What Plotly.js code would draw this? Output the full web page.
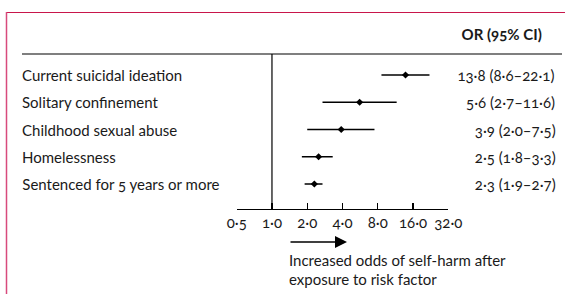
<!DOCTYPE html>
<html>
<head>
<meta charset="utf-8">
<script src="https://cdn.plot.ly/plotly-3.0.1.min.js"></script>
<style>
html,body{margin:0;padding:0;background:#fff;}
#chart{width:565px;height:294px;}
.main-svg text{font-feature-settings:"onum" 1;}
</style>
</head>
<body>
<div id="chart"></div>
<script>
// ---- data ----
const factors = ["Current suicidal ideation","Solitary confinement","Childhood sexual abuse","Homelessness","Sentenced for 5 years or more"];
const oddsRatio = [13.8, 5.6, 3.9, 2.5, 2.3];
const ciLow = [8.6, 2.7, 2.0, 1.8, 1.9];
const ciHigh = [22.1, 11.6, 7.5, 3.3, 2.7];
const tickValues = [0.5, 1, 2, 4, 8, 16, 32];
const tickLabels = ["0·5","1·0","2·0","4·0","8·0","16·0","32·0"];
const headerText = "OR (95% CI)";
const arrowText = ["Increased odds of self-harm after","exposure to risk factor"];

// ---- helpers ----
const W = 565, H = 294;
const px = v => v / W;
const py = v => 1 - v / H;
const fmt = v => v.toFixed(1).replace('.', '·');
const FONT = 'Lato, "Open Sans", sans-serif';
const TXT = '#1a1a1a';
const FS = 15;

const ciText = oddsRatio.map((v, i) => fmt(v) + ' (' + fmt(ciLow[i]) + '–' + fmt(ciHigh[i]) + ')');

const traces = [
  {
    type: 'scatter', mode: 'markers',
    x: oddsRatio, y: factors,
    marker: {symbol: 'diamond', size: 5.5, color: '#000'},
    error_x: {
      type: 'data', symmetric: false,
      array: oddsRatio.map((v, i) => ciHigh[i] - v),
      arrayminus: oddsRatio.map((v, i) => v - ciLow[i]),
      width: 0, thickness: 1.5, color: '#000'
    },
    hoverinfo: 'skip', showlegend: false
  },
  {
    type: 'scatter', mode: 'lines',
    x: [1, 1], y: [0, 1], yaxis: 'y2',
    line: {color: '#000', width: 1.2},
    hoverinfo: 'skip', showlegend: false
  }
];

const annotations = [];
factors.forEach((f, i) => {
  annotations.push({xref: 'paper', yref: 'y', x: px(20), y: f, text: f, showarrow: false,
    xanchor: 'left', yanchor: 'middle', font: {family: FONT, size: FS, color: TXT}});
  annotations.push({xref: 'paper', yref: 'y', x: px(559), y: f, text: ciText[i], showarrow: false,
    xanchor: 'right', yanchor: 'middle', font: {family: FONT, size: FS, color: TXT}});
});
annotations.push({xref: 'paper', yref: 'paper', x: px(544), y: py(34), text: '<b>' + headerText + '</b>',
  showarrow: false, xanchor: 'right', yanchor: 'middle', font: {family: FONT, size: FS, color: TXT}});
annotations.push({xref: 'paper', yref: 'paper', x: px(287), y: py(260), text: arrowText[0],
  showarrow: false, xanchor: 'left', yanchor: 'middle', font: {family: FONT, size: FS, color: TXT}});
annotations.push({xref: 'paper', yref: 'paper', x: px(287), y: py(279), text: arrowText[1],
  showarrow: false, xanchor: 'left', yanchor: 'middle', font: {family: FONT, size: FS, color: TXT}});
// arrow
annotations.push({xref: 'paper', yref: 'paper', x: px(347), y: py(242), text: '',
  showarrow: true, axref: 'pixel', ayref: 'pixel', ax: -58, ay: 0,
  arrowhead: 2, arrowsize: 1.6, arrowwidth: 1.5, arrowcolor: '#000', standoff: 0, startstandoff: 0});

const shapes = [
  // red frame (top and left)
  {type: 'line', xref: 'paper', yref: 'paper', x0: px(6), x1: px(566), y0: py(12.5), y1: py(12.5),
    line: {color: '#c8164b', width: 1.2}},
  {type: 'line', xref: 'paper', yref: 'paper', x0: px(6.5), x1: px(6.5), y0: py(12), y1: py(296),
    line: {color: '#d84a7c', width: 1.5}},
  // header rule
  {type: 'line', xref: 'paper', yref: 'paper', x0: px(22), x1: px(562), y0: py(54), y1: py(54),
    line: {color: '#000', width: 1.2}}
];

const layout = {
  width: W, height: H,
  margin: {l: 0, r: 0, t: 0, b: 0, pad: 0},
  paper_bgcolor: '#fff', plot_bgcolor: 'rgba(0,0,0,0)',
  showlegend: false,
  xaxis: {
    type: 'log', domain: [px(236.7), px(448.3)],
    range: [Math.log10(0.5), Math.log10(32)],
    tickvals: tickValues, ticktext: tickLabels,
    ticks: 'inside', ticklen: 6, tickwidth: 1.2, tickcolor: '#000',
    showline: true, linecolor: '#000', linewidth: 1.2,
    showgrid: false, zeroline: false,
    tickfont: {family: FONT, size: FS, color: TXT}
  },
  yaxis: {
    type: 'category', domain: [py(209), py(54)],
    categoryorder: 'array', categoryarray: factors,
    range: [4.917, -0.771],
    showticklabels: false, showgrid: false, zeroline: false, showline: false, ticks: ''
  },
  yaxis2: {
    overlaying: 'y', domain: [py(209), py(54)], range: [0, 1],
    visible: false
  },
  annotations: annotations,
  shapes: shapes
};

Plotly.newPlot('chart', traces, layout, {displayModeBar: false, staticPlot: true});
</script>
</body>
</html>
